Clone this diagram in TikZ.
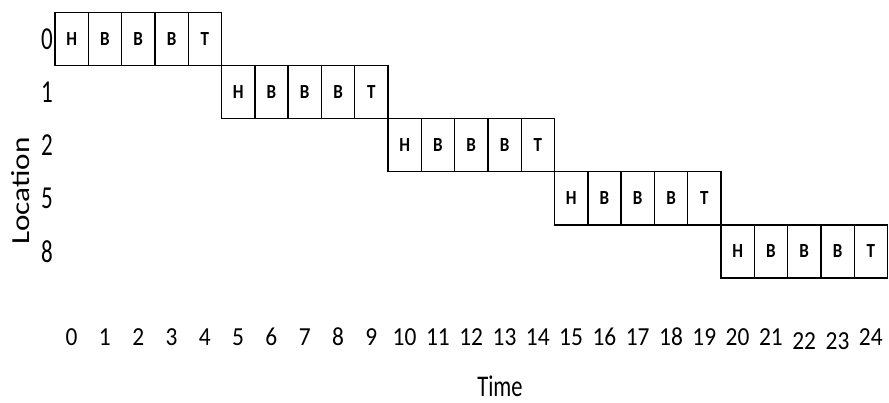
\documentclass[tikz,border=0pt]{standalone}
\usepackage{fontspec}
\setmainfont{Carlito}
\newfontfamily\cellfont[FakeStretch=0.85]{Carlito}
\newfontfamily\numfont[FakeStretch=0.9]{Carlito}
\newfontfamily\rowfont[FakeStretch=0.72]{Carlito}
\newfontfamily\titlefont[FakeStretch=0.75]{Carlito}
\newfontfamily\vertfont[FakeStretch=1.2]{Carlito}
\tikzset{
  cellbox/.style={draw=black, line width=1.4pt, minimum width=33.3pt, minimum height=53.1pt,
    inner sep=0pt, outer sep=0pt, anchor=north west, font=\cellfont\bfseries\fontsize{20}{20}\selectfont},
  rowlabel/.style={anchor=east, inner sep=0pt, font=\rowfont\fontsize{32}{32}\selectfont},
  timelabel/.style={inner sep=0pt, font=\numfont\fontsize{26}{26}\selectfont},
  axistitle/.style={inner sep=0pt, font=\titlefont\fontsize{30}{30}\selectfont}
}
\begin{document}
\begin{tikzpicture}[x=1pt,y=-1pt]
\useasboundingbox (0,0) rectangle (889,403);
\foreach \r/\lab in {0/0,1/1,2/2,3/5,4/8}{
  \foreach \k/\t in {0/H,1/B,2/B,3/B,4/T}{
    \node[cellbox] (c\r\k) at ({55+166.5*\r+33.3*\k},{12.5+53.1*\r}) {\t};
  }
  \node[rowlabel] (row\r) at (53,{39+53.1*\r}) {\lab};
}
\foreach \i in {0,...,21,24}{
  \node[timelabel] (t\i) at ({71.6+33.3*\i},337) {\i};
}
\foreach \i in {22,23}{
  \node[timelabel] (t\i) at ({71.6+33.3*\i},341) {\i};
}
\node[axistitle] (time) at (500,386) {Time};
\node[inner sep=0pt, rotate=90, font=\vertfont\fontsize{26}{26}\selectfont] (loc) at (21,191) {Location};
\end{tikzpicture}
\end{document}
